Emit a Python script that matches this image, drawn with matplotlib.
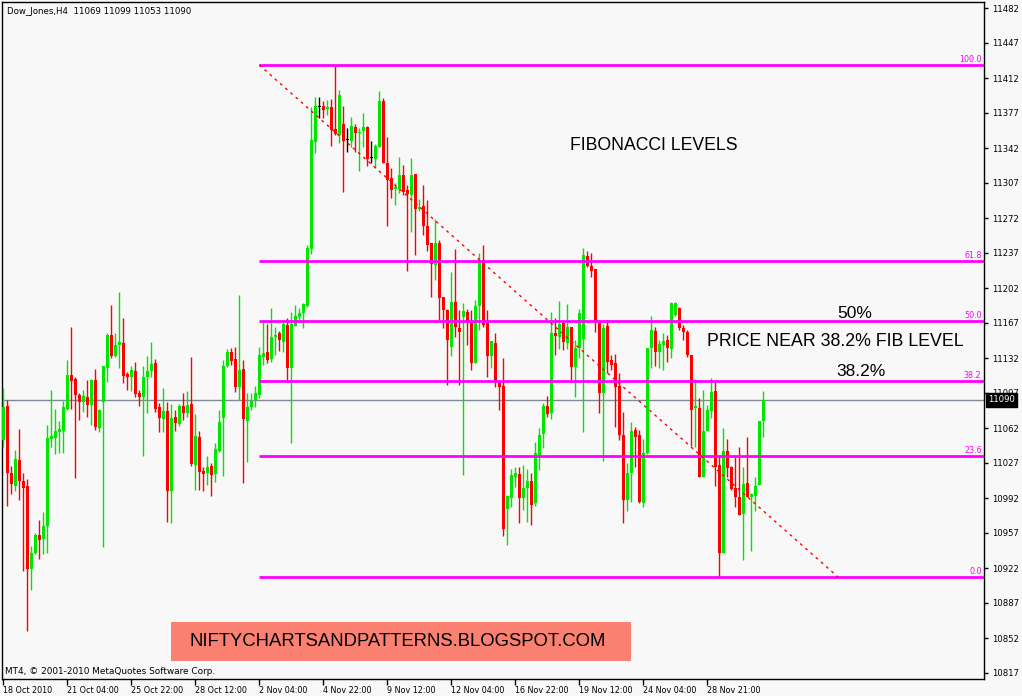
import matplotlib
matplotlib.use("Agg")
import matplotlib.pyplot as plt
import matplotlib.transforms as mtransforms
from matplotlib.patches import Rectangle
import numpy as np

# Dow Jones H4 candles (open, high, low, close)
opens = [11050, 11084, 11017, 11004, 11030, 11009, 11004, 10921, 10937, 10955,
         10951, 10964, 11051, 11052, 11058, 11059, 11081, 11115, 11111, 11095,
         11088, 11093, 11085, 11110, 11062, 11088, 11122, 11155, 11134, 11145,
         11147, 11116, 11113, 11119, 11097, 11093, 11113, 11119, 11127, 11083,
         11071, 11079, 10999, 11073, 11066, 11084, 11077, 11086, 11025, 11053,
         11019, 11017, 11024, 11016, 11039, 11072, 11124, 11138, 11131, 11103,
         11121, 11069, 11083, 11090, 11095, 11133, 11138, 11131, 11153, 11157,
         11148, 11165, 11122, 11164, 11173, 11177, 11184, 11241, 11348, 11383,
         11384, 11381, 11383, 11361, 11355, 11366, 11350, 11349, 11363, 11357,
         11359, 11363, 11332, 11331, 11343, 11389, 11327, 11312, 11301, 11301,
         11315, 11300, 11295, 11316, 11281, 11284, 11264, 11247, 11225, 11247,
         11193, 11180, 11143, 11188, 11162, 11173, 11178, 11168, 11127, 11184,
         11230, 11167, 11134, 11147, 11108, 11104, 10981, 10992, 11013, 11016,
         10992, 11002, 11009, 10987, 11035, 11056, 11084, 11077, 11157, 11153,
         11167, 11147, 11163, 11123, 11142, 11151, 11234, 11224, 11221, 11169,
         11097, 11164, 11130, 11127, 11104, 11055, 10990, 11017, 11060, 11055,
         10987, 11037, 11142, 11159, 11138, 11145, 11150, 11141, 11175, 11182,
         11162, 11158, 11135, 11082, 11082, 11013, 11059, 11079, 11099, 11025,
         10937, 11039, 11023, 11002, 10993, 10976, 11007, 10993, 10994, 11005,
         11069]
highs = [11102, 11090, 11024, 11040, 11061, 11017, 11011, 10944, 10957, 10970,
         10978, 11065, 11100, 11081, 11069, 11089, 11130, 11163, 11113, 11097,
         11100, 11110, 11111, 11121, 11081, 11124, 11157, 11185, 11157, 11198,
         11172, 11118, 11124, 11128, 11100, 11124, 11134, 11148, 11131, 11087,
         11102, 11088, 11086, 11080, 11086, 11097, 11099, 11133, 11076, 11059,
         11023, 11034, 11027, 11047, 11080, 11130, 11141, 11142, 11143, 11195,
         11130, 11097, 11097, 11104, 11143, 11169, 11166, 11182, 11163, 11159,
         11169, 11172, 11178, 11185, 11182, 11187, 11245, 11383, 11393, 11393,
         11389, 11390, 11391, 11425, 11400, 11384, 11362, 11373, 11366, 11362,
         11377, 11364, 11349, 11346, 11399, 11392, 11353, 11322, 11307, 11333,
         11325, 11305, 11332, 11316, 11291, 11305, 11290, 11247, 11271, 11250,
         11193, 11181, 11218, 11241, 11180, 11187, 11181, 11180, 11190, 11237,
         11245, 11180, 11149, 11157, 11108, 11132, 10995, 11021, 11023, 11023,
         11025, 11021, 11017, 11048, 11062, 11087, 11094, 11178, 11172, 11189,
         11168, 11186, 11163, 11150, 11181, 11242, 11239, 11237, 11221, 11170,
         11166, 11170, 11135, 11136, 11117, 11078, 11027, 11068, 11063, 11060,
         11051, 11142, 11174, 11163, 11150, 11157, 11155, 11188, 11188, 11183,
         11165, 11160, 11135, 11111, 11092, 11100, 11085, 11112, 11108, 11035,
         11062, 11051, 11024, 11033, 11043, 11023, 11053, 10997, 11013, 11069,
         11099]
lows = [11043, 10984, 10996, 10999, 10990, 10919, 10859, 10900, 10936, 10931,
        10936, 10937, 11043, 11036, 11037, 11037, 11080, 11081, 11012, 11070,
        11078, 11073, 11065, 11060, 11058, 10943, 11108, 11132, 11133, 11122,
        11107, 11100, 11099, 11093, 11084, 11034, 11077, 11113, 11078, 11058,
        11058, 10968, 10967, 11059, 11064, 11070, 11073, 11024, 11000, 11000,
        10999, 11005, 10994, 11008, 11038, 11014, 11123, 11125, 11098, 11090,
        11007, 11028, 11080, 11083, 11092, 11125, 11127, 11128, 11135, 11139,
        11138, 11108, 11047, 11164, 11170, 11162, 11183, 11236, 11337, 11372,
        11372, 11375, 11344, 11355, 11347, 11298, 11338, 11343, 11338, 11319,
        11343, 11324, 11327, 11322, 11343, 11327, 11264, 11292, 11285, 11297,
        11295, 11219, 11258, 11235, 11279, 11255, 11239, 11193, 11210, 11170,
        11162, 11105, 11134, 11153, 11105, 11015, 11145, 11120, 11127, 11160,
        11163, 11113, 11122, 11103, 11080, 10954, 10945, 10983, 11003, 10967,
        10980, 10968, 10965, 10984, 11020, 11042, 11073, 11071, 11135, 11141,
        11140, 11141, 11108, 11093, 11132, 11058, 11223, 11213, 11158, 11077,
        11029, 11117, 11120, 11063, 11050, 10967, 10979, 10988, 11023, 10987,
        10983, 11036, 11122, 11124, 11122, 11120, 11128, 11132, 11174, 11160,
        11150, 11133, 11044, 11043, 11013, 11013, 11059, 11072, 11004, 10913,
        10937, 11013, 11000, 10983, 10975, 10930, 10993, 10939, 10979, 11005,
        11053]
closes = [11083, 11017, 11006, 11031, 11009, 11002, 10921, 10937, 10955, 10950,
          10964, 11052, 11054, 11059, 11061, 11083, 11115, 11109, 11095, 11088,
          11094, 11085, 11110, 11063, 11080, 11124, 11155, 11134, 11145, 11148,
          11114, 11113, 11120, 11096, 11093, 11113, 11119, 11126, 11081, 11072,
          11079, 10999, 11072, 11067, 11084, 11077, 11085, 11026, 11054, 11018,
          11016, 11023, 11015, 11041, 11068, 11124, 11138, 11129, 11103, 11120,
          11071, 11083, 11089, 11097, 11135, 11137, 11130, 11153, 11155, 11150,
          11166, 11122, 11166, 11174, 11177, 11186, 11242, 11350, 11384, 11383,
          11380, 11383, 11360, 11356, 11395, 11349, 11350, 11364, 11357, 11358,
          11363, 11331, 11332, 11344, 11389, 11327, 11310, 11300, 11303, 11315,
          11298, 11296, 11315, 11281, 11283, 11264, 11245, 11226, 11247, 11192,
          11180, 11150, 11188, 11163, 11158, 11179, 11167, 11127, 11184, 11230,
          11165, 11134, 11149, 11108, 11103, 10961, 10994, 11015, 11017, 10992,
          11002, 11009, 10985, 11037, 11055, 11084, 11076, 11157, 11154, 11166,
          11148, 11163, 11123, 11142, 11177, 11235, 11224, 11219, 11169, 11097,
          11162, 11128, 11125, 11103, 11055, 10990, 11017, 11059, 11053, 10988,
          11037, 11142, 11160, 11138, 11146, 11149, 11142, 11187, 11187, 11162,
          11158, 11135, 11080, 11084, 11013, 11059, 11080, 11098, 11023, 10937,
          11039, 11022, 11001, 10993, 10975, 11006, 10993, 10996, 11004, 11069,
          11090]

date_ticks = [0, 16, 32, 48, 64, 80, 96, 112, 128, 144, 160, 176]
date_labels = ["18 Oct 2010", "21 Oct 04:00", "25 Oct 22:00", "28 Oct 12:00",
               "2 Nov 04:00", "4 Nov 22:00", "9 Nov 12:00", "12 Nov 04:00",
               "16 Nov 22:00", "19 Nov 12:00", "24 Nov 04:00", "28 Nov 21:00"]
price_ticks = list(range(10817, 11483, 35))

# fibonacci retracement drawn from the swing high to the swing low
fib_high = 11425
fib_low = 10913
fib_start_bar = 64
fib_end_bar = 208.7
fib_ratios = [1.0, 0.618, 0.5, 0.382, 0.236, 0.0]
fib_names = ["100.0", "61.8", "50.0", "38.2", "23.6", "0.0"]

last_price = closes[-1]

bg = "#f8f8f8"
up_col = "#00e600"
down_col = "#ff0000"
magenta = "#ff00ff"
small = "DejaVu Sans"
big = "Liberation Sans"

fig = plt.figure(figsize=(10.22, 6.96), dpi=100, facecolor=bg)
ax = fig.add_axes([2 / 1022, (696 - 679) / 696, 982 / 1022, 677 / 696])
ax.set_facecolor(bg)

x = np.arange(len(opens))
o = np.array(opens)
c = np.array(closes)
cols = np.where(c > o, up_col, np.where(c < o, down_col, "black"))

ax.vlines(x, lows, highs, colors=cols, linewidth=1.0, zorder=3)
bottoms = np.minimum(o, c)
heights = np.maximum(np.abs(c - o), 1)
ax.bar(x, heights, bottom=bottoms, width=0.75, color=cols, linewidth=0, zorder=4)

# current price line
ax.axhline(last_price, color="#7f8a96", linewidth=1.0, zorder=2)

# fib levels
rng = fib_high - fib_low
trans = mtransforms.blended_transform_factory(ax.transAxes, ax.transData)
for r, name in zip(fib_ratios, fib_names):
    lvl = fib_low + r * rng
    ax.plot([fib_start_bar, 250], [lvl, lvl], color=magenta, linewidth=2, zorder=5,
            solid_capstyle="butt")
    ax.text(0.9975, lvl + 1, name, transform=trans, ha="right", va="bottom",
            color=magenta, fontsize=5.8, family=small, zorder=6)
ax.plot([fib_start_bar, fib_end_bar], [fib_high, fib_low], color="#ff0000",
        linewidth=1.0, linestyle=(0, (2, 3)), zorder=5)

ax.set_xlim(-0.325, 245.2)
ax.set_ylim(10811, 11488)

ax.yaxis.tick_right()
ax.set_yticks(price_ticks)
ax.set_yticklabels([str(p) for p in price_ticks], fontsize=6.1, family=small)
ax.tick_params(axis="y", direction="out", length=3, width=1, pad=3)
ax.set_xticks(date_ticks)
ax.set_xticklabels(date_labels, fontsize=5.8, family=small)
for lab in ax.get_xticklabels():
    lab.set_ha("left")
ax.tick_params(axis="x", direction="out", length=4, width=1, pad=1)
for s in ax.spines.values():
    s.set_color("black")
    s.set_linewidth(1)

# current price tag
ax.text(1.004, last_price, str(last_price), transform=trans, ha="left", va="center",
        color="white", fontsize=6.1, family=small, zorder=10,
        bbox=dict(boxstyle="square,pad=0.25", facecolor="black", edgecolor="black"))

# header and footer
fig.text(7 / 1022, 1 - 11 / 696, "Dow_Jones,H4  11069 11099 11053 11090",
         fontsize=6.2, family=small, va="center", ha="left")
fig.text(5 / 1022, 1 - 671 / 696, "MT4, \u00a9 2001-2010 MetaQuotes Software Corp.",
         fontsize=6.4, family=small, va="center", ha="left")

# annotations
fig.text(654 / 1022, 1 - 146 / 696, "FIBONACCI LEVELS", fontsize=12.7, family=big,
         ha="center", va="center")
fig.text(855 / 1022, 1 - 313 / 696, "50%", fontsize=12.5, family=big,
         ha="center", va="center")
fig.text(835 / 1022, 1 - 342 / 696, "PRICE NEAR 38.2% FIB LEVEL", fontsize=12.8,
         family=big, ha="center", va="center")
fig.text(861 / 1022, 1 - 372 / 696, "38.2%", fontsize=12.5, family=big,
         ha="center", va="center")

# blog watermark
fig.patches.append(Rectangle((171 / 1022, 1 - 661 / 696), 460 / 1022, 39 / 696,
                             transform=fig.transFigure, facecolor="#fa8072",
                             edgecolor="none", zorder=10))
fig.text(398 / 1022, 1 - 642 / 696, "NIFTYCHARTSANDPATTERNS.BLOGSPOT.COM",
         fontsize=13.3, family=big, ha="center", va="center", zorder=11)

fig.savefig("out.png", dpi=100, facecolor=bg)
